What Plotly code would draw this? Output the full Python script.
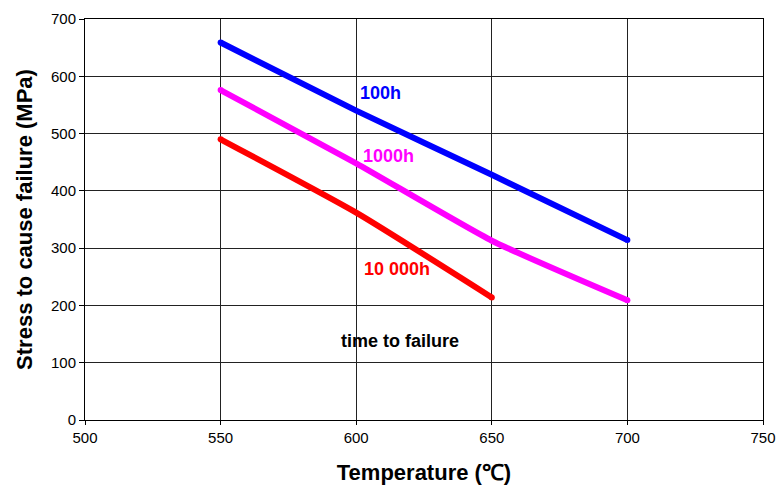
import plotly.graph_objects as go

temps = [550, 600, 650, 700]
stress_100h = [659, 540, 428, 314]
temps_1000h = [550, 600, 650, 700]
stress_1000h = [576, 448, 313, 209]
temps_10000h = [550, 600, 650]
stress_10000h = [490, 362, 214]

series = [
    ("100h", temps, stress_100h, "#0000FF"),
    ("1000h", temps_1000h, stress_1000h, "#FF00FF"),
    ("10 000h", temps_10000h, stress_10000h, "#FF0000"),
]
labels = [
    ("100h", 609, 571, "#0000FF"),
    ("1000h", 612, 461, "#FF00FF"),
    ("10 000h", 615, 264, "#FF0000"),
    ("time to failure", 616, 138, "#000000"),
]

fig = go.Figure()
for name, xs, ys, col in series:
    fig.add_trace(go.Scatter(
        x=xs, y=ys, mode="lines", name=name,
        line=dict(color=col, width=6, shape="spline", smoothing=0.5),
        showlegend=False, hoverinfo="skip"))
    fig.add_trace(go.Scatter(
        x=[xs[0], xs[-1]], y=[ys[0], ys[-1]], mode="markers",
        marker=dict(color=col, size=6, line=dict(width=0)),
        showlegend=False, hoverinfo="skip"))

for text, x, y, col in labels:
    fig.add_annotation(x=x, y=y, text=f"<b>{text}</b>", showarrow=False,
                       font=dict(family="Liberation Sans, Arial", size=18, color=col))

fig.update_layout(
    width=777, height=488,
    margin=dict(l=85, r=14, t=19, b=68),
    paper_bgcolor="white", plot_bgcolor="white",
    font=dict(family="Liberation Sans, Arial", size=15, color="black"),
    xaxis=dict(
        range=[500, 750], tickvals=[500, 550, 600, 650, 700, 750],
        showgrid=True, gridcolor="#222", gridwidth=1,
        showline=True, linecolor="black", linewidth=1, mirror=True,
        ticks="outside", ticklen=4, tickcolor="black",
        zeroline=False, automargin=False,
        title=dict(text="<b>Temperature (℃)</b>", font=dict(size=22), standoff=19),
    ),
    yaxis=dict(
        range=[0, 700], tickvals=[0, 100, 200, 300, 400, 500, 600, 700],
        showgrid=True, gridcolor="#222", gridwidth=1,
        showline=True, linecolor="black", linewidth=1, mirror=True,
        ticks="outside", ticklen=5, tickcolor="black",
        zeroline=False, automargin=False,
        title=dict(text="<b>Stress to cause failure (MPa)</b>", font=dict(size=22), standoff=12),
    ),
)

# remove the default page margin so the figure fills the window exactly
fig.write_html(
    "out.html",
    config={"displayModeBar": False},
    post_script="document.body.style.margin='0';document.body.style.overflow='hidden';",
)
